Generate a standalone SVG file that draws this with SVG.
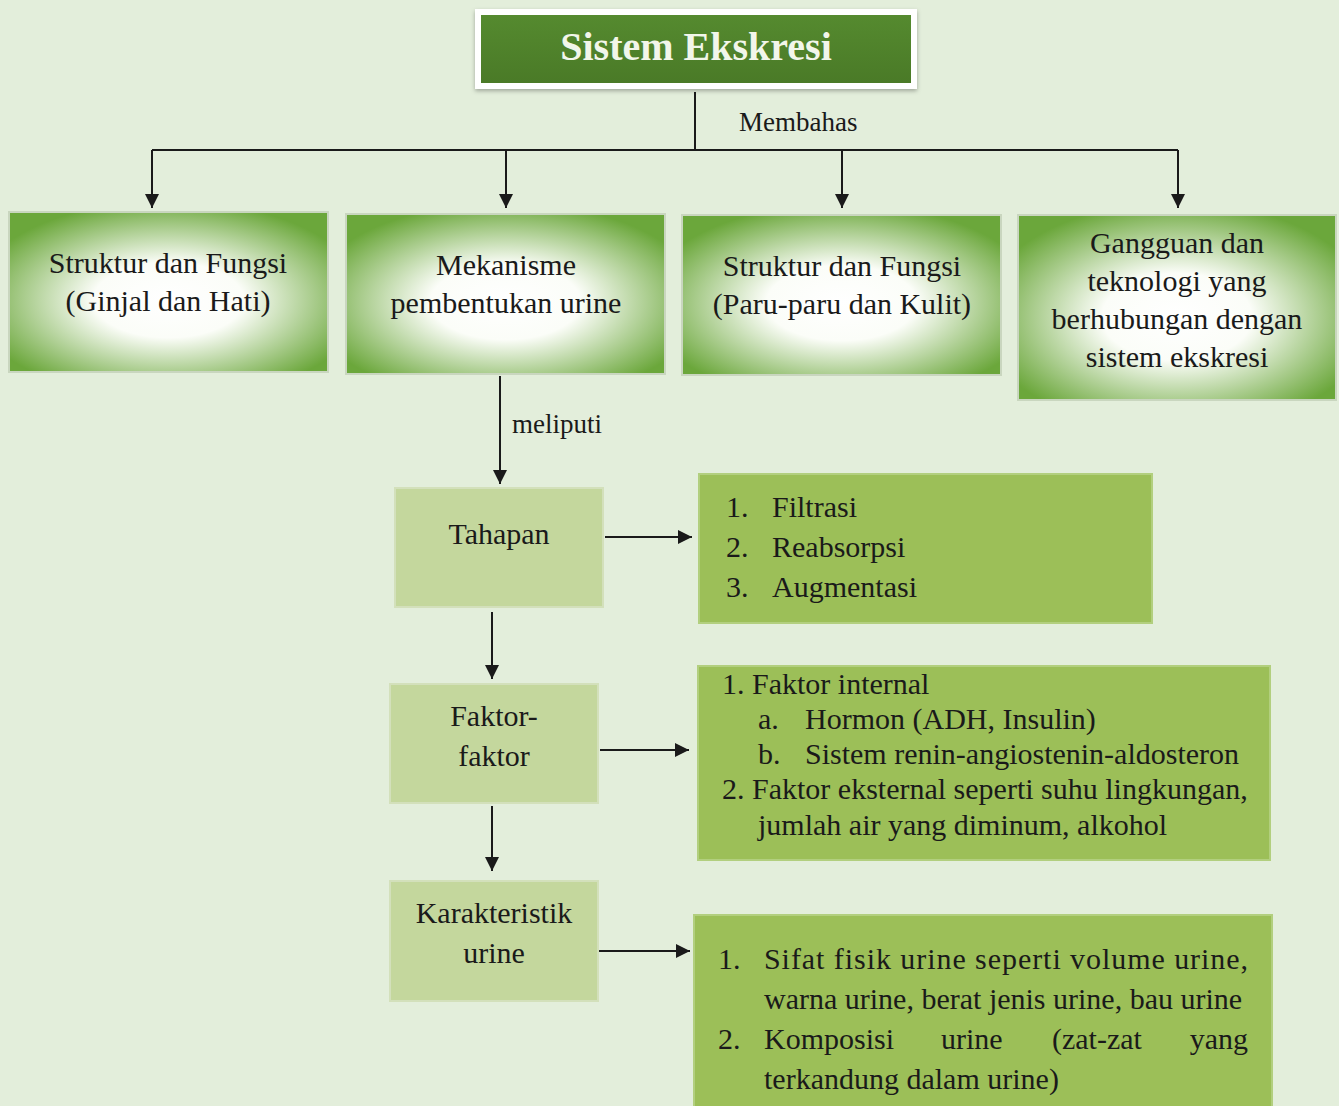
<svg xmlns="http://www.w3.org/2000/svg" width="1339" height="1106" viewBox="0 0 1339 1106">
<defs>
<style>
text{font-family:"Liberation Serif","Times New Roman",serif;fill:#1a1a1a;}
.t{font-size:30px;text-anchor:middle;}
.l{font-size:30px;}
.lbl{font-size:27px;}
.ln{stroke:#1a1a1a;stroke-width:2;fill:none;}
.top{fill:url(#rg);stroke:#c9d6bf;stroke-width:2;}
.sm{fill:#c4d79d;stroke:#d3e0bb;stroke-width:2;}
.lst{fill:#9cbf58;stroke:#b2cf7e;stroke-width:2;}
</style>
<radialGradient id="rg" cx="0.5" cy="0.55" r="0.62">
<stop offset="0" stop-color="#ffffff"/>
<stop offset="0.38" stop-color="#fbfdf8"/>
<stop offset="1" stop-color="#6ba73b"/>
</radialGradient>
<linearGradient id="tg" x1="0" y1="0" x2="0" y2="1">
<stop offset="0" stop-color="#558a2f"/>
<stop offset="1" stop-color="#4a7a27"/>
</linearGradient>
<filter id="sh" x="-5%" y="-10%" width="110%" height="130%">
<feDropShadow dx="0" dy="2" stdDeviation="2" flood-color="#000" flood-opacity="0.3"/>
</filter>
<marker id="ah" viewBox="0 0 10 10" refX="10" refY="5" markerWidth="7" markerHeight="7" markerUnits="strokeWidth" orient="auto">
<path d="M0,0 L10,5 L0,10 z" fill="#1a1a1a"/>
</marker>
</defs>
<rect x="0" y="0" width="1339" height="1106" fill="#e3eedb"/>

<g id="connectors">
<path class="ln" d="M695,92 V150"/>
<path class="ln" d="M152,150 H1178"/>
<path class="ln" d="M152,150 V208" marker-end="url(#ah)"/>
<path class="ln" d="M506,150 V208" marker-end="url(#ah)"/>
<path class="ln" d="M842,150 V208" marker-end="url(#ah)"/>
<path class="ln" d="M1178,150 V208" marker-end="url(#ah)"/>
<text class="lbl" x="739" y="131">Membahas</text>
<path class="ln" d="M500,376 V484" marker-end="url(#ah)"/>
<text class="lbl" x="512" y="433">meliputi</text>
<path class="ln" d="M605,537 H692" marker-end="url(#ah)"/>
<path class="ln" d="M492,612 V679" marker-end="url(#ah)"/>
<path class="ln" d="M600,750 H689" marker-end="url(#ah)"/>
<path class="ln" d="M492,806 V871" marker-end="url(#ah)"/>
<path class="ln" d="M599,951 H690" marker-end="url(#ah)"/>
</g>

<g id="title">
<rect x="475" y="9" width="442" height="80" fill="#ffffff" filter="url(#sh)"/>
<rect x="481" y="15" width="430" height="68" fill="url(#tg)"/>
<text x="696" y="60" style="font-size:40px;font-weight:bold;fill:#f2f6ea;text-anchor:middle">Sistem Ekskresi</text>
</g>

<g id="n1">
<rect class="top" x="9" y="212" width="319" height="160"/>
<text class="t" x="168" y="273">Struktur dan Fungsi</text>
<text class="t" x="168" y="311">(Ginjal dan Hati)</text>
</g>
<g id="n2">
<rect class="top" x="346" y="214" width="319" height="160"/>
<text class="t" x="506" y="275">Mekanisme</text>
<text class="t" x="506" y="313">pembentukan urine</text>
</g>
<g id="n3">
<rect class="top" x="682" y="215" width="319" height="160"/>
<text class="t" x="842" y="276">Struktur dan Fungsi</text>
<text class="t" x="842" y="314">(Paru-paru dan Kulit)</text>
</g>
<g id="n4">
<rect class="top" x="1018" y="215" width="318" height="185"/>
<text class="t" x="1177" y="253">Gangguan dan</text>
<text class="t" x="1177" y="291">teknologi yang</text>
<text class="t" x="1177" y="329">berhubungan dengan</text>
<text class="t" x="1177" y="367">sistem ekskresi</text>
</g>

<g id="tahapan">
<rect class="sm" x="395" y="488" width="208" height="119"/>
<text class="t" x="499" y="544">Tahapan</text>
</g>
<g id="tahapan-list">
<rect class="lst" x="699" y="474" width="453" height="149"/>
<text class="l" x="726" y="517">1.</text><text class="l" x="772" y="517">Filtrasi</text>
<text class="l" x="726" y="557">2.</text><text class="l" x="772" y="557">Reabsorpsi</text>
<text class="l" x="726" y="597">3.</text><text class="l" x="772" y="597">Augmentasi</text>
</g>

<g id="faktor">
<rect class="sm" x="390" y="684" width="208" height="119"/>
<text class="t" x="494" y="726">Faktor-</text>
<text class="t" x="494" y="766">faktor</text>
</g>
<g id="faktor-list">
<rect class="lst" x="698" y="666" width="572" height="194"/>
<text class="l" x="722" y="694">1. Faktor internal</text>
<text class="l" x="758" y="729">a.</text><text class="l" x="805" y="729">Hormon (ADH, Insulin)</text>
<text class="l" x="758" y="764">b.</text><text class="l" x="805" y="764">Sistem renin-angiostenin-aldosteron</text>
<text class="l" x="722" y="799">2. Faktor eksternal seperti suhu lingkungan,</text>
<text class="l" x="758" y="835">jumlah air yang diminum, alkohol</text>
</g>

<g id="karakteristik">
<rect class="sm" x="390" y="881" width="208" height="120"/>
<text class="t" x="494" y="923">Karakteristik</text>
<text class="t" x="494" y="963">urine</text>
</g>
<g id="karakteristik-list">
<rect class="lst" x="694" y="915" width="578" height="195"/>
<text class="l" x="718" y="969">1.</text>
<text class="l" x="764" y="969" textLength="484" lengthAdjust="spacing">Sifat fisik urine seperti volume urine,</text>
<text class="l" x="764" y="1009">warna urine, berat jenis urine, bau urine</text>
<text class="l" x="718" y="1049">2.</text>
<text class="l" x="764" y="1049">Komposisi</text>
<text class="l" x="941" y="1049">urine</text>
<text class="l" x="1052" y="1049">(zat-zat</text>
<text class="l" x="1248" y="1049" text-anchor="end">yang</text>
<text class="l" x="764" y="1089">terkandung dalam urine)</text>
</g>
</svg>
